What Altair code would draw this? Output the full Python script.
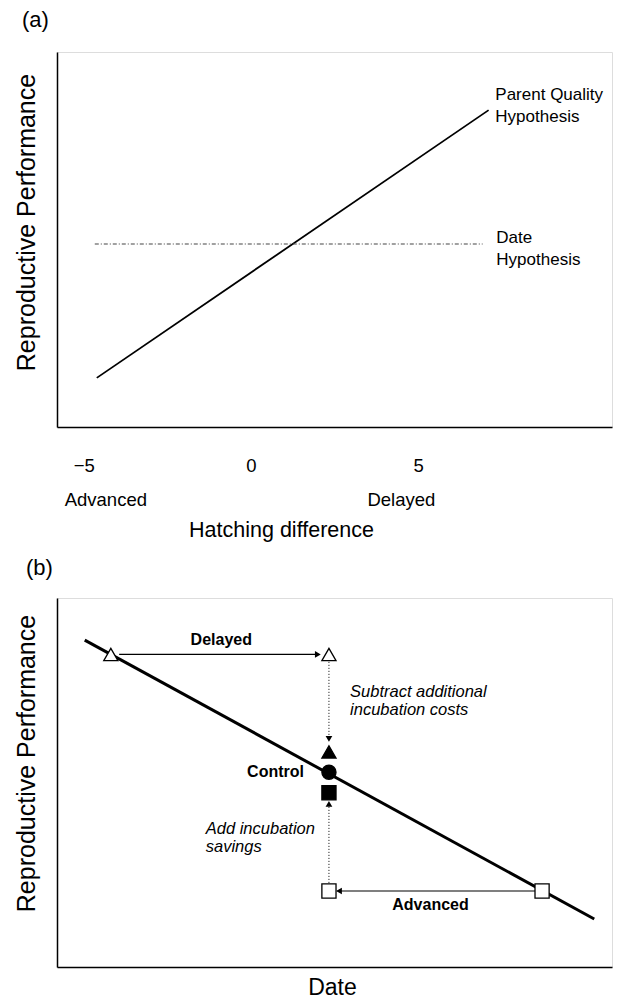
import altair as alt
import pandas as pd

FONT = "Liberation Sans"

# ---------------- Panel (a) data ----------------
a_x_domain = [-5.8, 10.8]
a_y_domain = [0, 10]
a_ticks = [-5, 0, 5]

parent_x = [-4.61, 7.11]
parent_y = [1.31, 8.45]

date_x = [-4.67, 6.93]
date_y = [4.88, 4.88]

a_label_text = ["Parent Quality\nHypothesis", "Date\nHypothesis"]
a_label_x = [7.31, 7.34]
a_label_y = [8.85, 5.04]

a_dir_text = ["Advanced", "Delayed"]
a_dir_x = [-4.34, 4.50]
a_dir_y = [-1.95, -1.95]

# ---------------- Panel (b) data ----------------
b_x_domain = [0, 10]
b_y_domain = [0, 10]

trend_x = [0.50, 9.68]
trend_y = [8.86, 1.30]

pt_x = [0.97, 4.90, 4.90, 4.90, 4.90, 4.90, 8.74]
pt_y = [8.47, 8.47, 5.83, 5.28, 4.72, 2.06, 2.06]
pt_group = ["Delayed", "Delayed", "Delayed", "Control", "Advanced", "Advanced", "Advanced"]
pt_stage = ["open", "open", "filled", "filled", "filled", "open", "open"]

harrow_x = [1.12, 8.65]
harrow_x2 = [4.72, 5.06]
harrow_y = [8.47, 2.06]
harrow_dir = ["right", "left"]

varrow_x = [4.90, 4.90]
varrow_y = [8.27, 2.28]
varrow_y2 = [6.15, 4.40]
varrow_dir = ["down", "up"]

head_x = [4.70, 5.08, 4.90, 4.90]
head_y = [8.47, 2.06, 6.18, 4.42]
head_dir = ["right", "left", "down", "up"]

bold_text = ["Delayed", "Advanced"]
bold_x = [2.96, 6.73]
bold_y = [8.86, 1.68]

control_text = ["Control"]
control_x = [4.45]
control_y = [5.28]

ital_text = ["Subtract additional\nincubation costs", "Add incubation\nsavings"]
ital_x = [5.28, 2.68]
ital_y = [7.45, 3.74]

# ---------------- Panel (a) ----------------
xa_scale = alt.Scale(domain=a_x_domain, nice=False, zero=False)
ya_scale = alt.Scale(domain=a_y_domain, nice=False, zero=False)

xa_axis = alt.Axis(values=a_ticks, title="Hatching difference", grid=False, ticks=False,
                   labelFontSize=18.5, labelPadding=29, labelFont=FONT, labelColor="black",
                   domainColor="black", domainWidth=1.5,
                   titleFontSize=21.5, titleFont=FONT, titleFontWeight="normal", titleColor="black",
                   titleX=224, titleY=103, titleBaseline="middle")
ya_axis = alt.Axis(title="Reproductive Performance", grid=False, ticks=False, labels=False,
                   domainColor="black", domainWidth=1.5,
                   titleFontSize=25, titleFont=FONT, titleFontWeight="normal", titleColor="black",
                   titlePadding=18, titleY=170)

def XA(field):
    return alt.X(field, type="quantitative", scale=xa_scale, axis=xa_axis)

def YA(field):
    return alt.Y(field, type="quantitative", scale=ya_scale, axis=ya_axis)

df_parent = pd.DataFrame({"x": parent_x, "y": parent_y})
df_date = pd.DataFrame({"x": date_x, "y": date_y})
df_alab = pd.DataFrame({"x": a_label_x, "y": a_label_y, "t": a_label_text})
df_adir = pd.DataFrame({"x": a_dir_x, "y": a_dir_y, "t": a_dir_text})

a_parent = alt.Chart(df_parent).mark_line(color="black", strokeWidth=1.8).encode(x=XA("x"), y=YA("y"))
a_date = alt.Chart(df_date).mark_line(color="#444444", strokeWidth=1.2, strokeDash=[4, 2, 1, 2]).encode(x=XA("x"), y=YA("y"))
a_lab = alt.Chart(df_alab).mark_text(align="left", baseline="middle", fontSize=17, font=FONT,
                                      lineBreak="\n", lineHeight=21.5, color="black").encode(
    x=XA("x"), y=YA("y"), text="t:N")
a_dir = alt.Chart(df_adir).mark_text(align="center", baseline="middle", fontSize=18.5, font=FONT,
                                      color="black").encode(x=XA("x"), y=YA("y"), text="t:N")

panel_a = alt.layer(a_parent, a_date, a_lab, a_dir).properties(
    width=555, height=375,
    title=alt.TitleParams("(a)", anchor="start", frame="group", dx=-35, offset=20,
                          fontSize=22, font=FONT, fontWeight="normal", color="black"))

# ---------------- Panel (b) ----------------
xb_scale = alt.Scale(domain=b_x_domain, nice=False, zero=False)
yb_scale = alt.Scale(domain=b_y_domain, nice=False, zero=False)

xb_axis = alt.Axis(title="Date", grid=False, ticks=False, labels=False,
                   domainColor="black", domainWidth=1.5,
                   titleFontSize=23, titleFont=FONT, titleFontWeight="normal", titleColor="black",
                   titleX=275, titleY=20, titleBaseline="middle")
yb_axis = alt.Axis(title="Reproductive Performance", grid=False, ticks=False, labels=False,
                   domainColor="black", domainWidth=1.5,
                   titleFontSize=25, titleFont=FONT, titleFontWeight="normal", titleColor="black",
                   titlePadding=18, titleY=165)

def XB(field):
    return alt.X(field, type="quantitative", scale=xb_scale, axis=xb_axis)

def YB(field):
    return alt.Y(field, type="quantitative", scale=yb_scale, axis=yb_axis)

df_trend = pd.DataFrame({"x": trend_x, "y": trend_y})
df_pts = pd.DataFrame({"x": pt_x, "y": pt_y, "group": pt_group, "stage": pt_stage})
df_h = pd.DataFrame({"x": harrow_x, "x2": harrow_x2, "y": harrow_y, "dir": harrow_dir})
df_v = pd.DataFrame({"x": varrow_x, "y": varrow_y, "y2": varrow_y2, "dir": varrow_dir})
df_head = pd.DataFrame({"x": head_x, "y": head_y, "dir": head_dir})
df_bold = pd.DataFrame({"x": bold_x, "y": bold_y, "t": bold_text})
df_ctrl = pd.DataFrame({"x": control_x, "y": control_y, "t": control_text})
df_ital = pd.DataFrame({"x": ital_x, "y": ital_y, "t": ital_text})

b_trend = alt.Chart(df_trend).mark_line(color="black", strokeWidth=3).encode(x=XB("x"), y=YB("y"))
b_h = alt.Chart(df_h).mark_rule(color="black", strokeWidth=1.2).encode(x=XB("x"), x2="x2", y=YB("y"))
b_v = alt.Chart(df_v).mark_rule(color="black", strokeWidth=1, strokeDash=[1, 2]).encode(x=XB("x"), y=YB("y"), y2="y2")
b_head = alt.Chart(df_head).mark_point(filled=True, color="black", size=45, opacity=1).encode(
    x=XB("x"), y=YB("y"),
    shape=alt.Shape("dir:N", scale=alt.Scale(domain=["right", "left", "down", "up"],
                                              range=["triangle-right", "triangle-left", "triangle-down", "triangle-up"]),
                    legend=None))
b_pts = alt.Chart(df_pts).mark_point(strokeWidth=1.3, stroke="black", size=200, opacity=1).encode(
    x=XB("x"), y=YB("y"),
    shape=alt.Shape("group:N", scale=alt.Scale(domain=["Delayed", "Control", "Advanced"],
                                                range=["triangle-up", "circle", "square"]), legend=None),
    fill=alt.Fill("stage:N", scale=alt.Scale(domain=["open", "filled"], range=["white", "black"]), legend=None))
b_bold = alt.Chart(df_bold).mark_text(align="center", baseline="middle", fontSize=16, font=FONT,
                                       fontWeight="bold", color="black").encode(x=XB("x"), y=YB("y"), text="t:N")
b_ctrl = alt.Chart(df_ctrl).mark_text(align="right", baseline="middle", fontSize=16, font=FONT,
                                       fontWeight="bold", color="black").encode(x=XB("x"), y=YB("y"), text="t:N")
b_ital = alt.Chart(df_ital).mark_text(align="left", baseline="middle", fontSize=16.5, font=FONT,
                                       fontStyle="italic", lineBreak="\n", lineHeight=18,
                                       color="black").encode(x=XB("x"), y=YB("y"), text="t:N")

panel_b = alt.layer(b_trend, b_h, b_v, b_head, b_pts, b_bold, b_ctrl, b_ital).resolve_scale(
    shape="independent", fill="independent"
).properties(
    width=555, height=369,
    title=alt.TitleParams("(b)", anchor="start", frame="group", dx=-31, offset=18,
                          fontSize=22, font=FONT, fontWeight="normal", color="black"))

chart = alt.vconcat(panel_a, panel_b, spacing=15).properties(
    padding={"left": 13, "top": 8, "right": 0, "bottom": 0}
).configure_view(stroke=None).configure(background="white")

chart.save("out.html", embed_options={"renderer": "svg", "actions": False})
